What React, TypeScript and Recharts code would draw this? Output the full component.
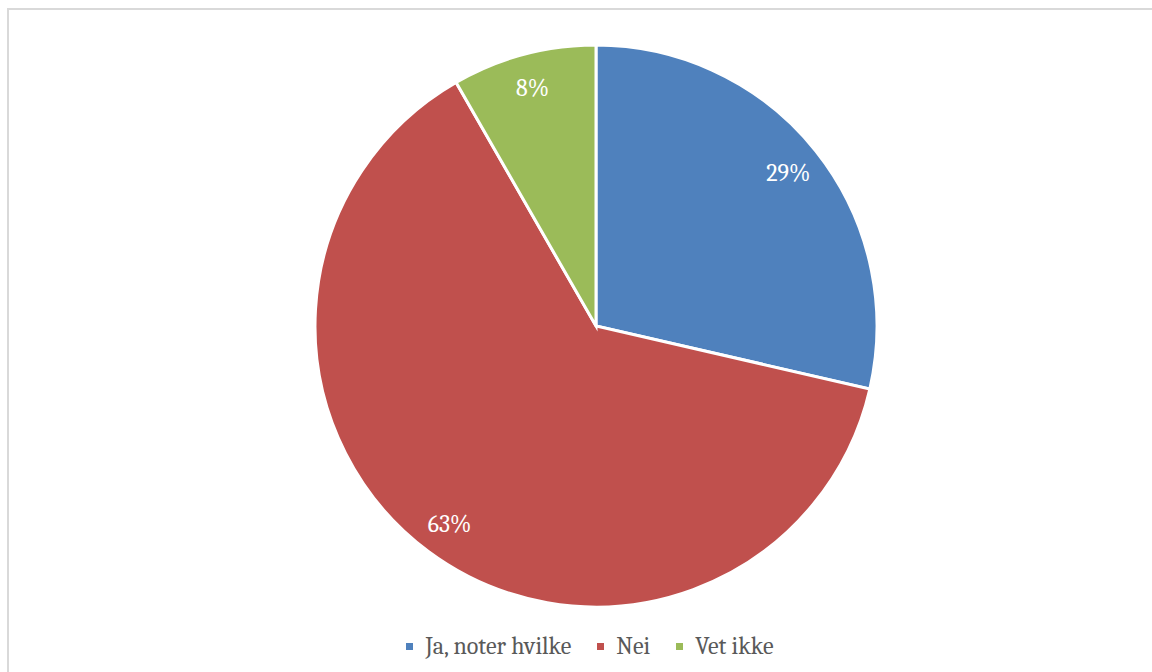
import { Cell, Legend, Pie, PieChart } from "recharts";

const categories = ["Ja, noter hvilke", "Nei", "Vet ikke"];
const shares = [28.6, 63.1, 8.3];
const colors = ["#4f81bd", "#c0504d", "#9bbb59"];

const data = categories.map((name, i) => ({ name, value: shares[i] }));

const font = "Cambria, 'DejaVu Serif', serif";
const RAD = Math.PI / 180;

function renderLabel(props: any) {
  const { cx, cy, midAngle, outerRadius, percent } = props;
  const r = outerRadius * 0.875;
  const x = cx + r * Math.cos(-midAngle * RAD);
  const y = cy + r * Math.sin(-midAngle * RAD);
  return (
    <text x={x} y={y} fill="#fff" fontSize={24} fontFamily={font} textAnchor="middle" dominantBaseline="central">
      {`${Math.round(percent * 100)}%`}
    </text>
  );
}

function LegendContent() {
  return (
    <div style={{ display: "flex", justifyContent: "center", alignItems: "center", fontFamily: font, fontSize: 24, color: "#595959" }}>
      {categories.map((c, i) => (
        <div key={c} style={{ display: "flex", alignItems: "center", marginRight: i < categories.length - 1 ? 26 : 0 }}>
          <span style={{ width: 7, height: 7, background: colors[i], marginRight: 12, display: "inline-block" }} />
          <span>{c}</span>
        </div>
      ))}
    </div>
  );
}

export default function App() {
  return (
    <div style={{ position: "absolute", left: 0, top: 0, width: 1152, height: 672, background: "#fff", overflow: "hidden" }}>
      <div style={{ position: "absolute", left: 7, top: 8, width: 1170, height: 690, border: "2px solid #d9d9d9" }} />
      <div style={{ position: "absolute", left: 0, top: 0 }}>
        <PieChart width={1152} height={672} margin={{ top: 0, right: 0, bottom: 0, left: 0 }}>
          <Pie
            data={data}
            dataKey="value"
            nameKey="name"
            cx={596}
            cy={326}
            outerRadius={281}
            startAngle={90}
            endAngle={-270}
            stroke="#fff"
            strokeWidth={3}
            label={renderLabel}
            labelLine={false}
            isAnimationActive={false}
          >
            {data.map((_, i) => (
              <Cell key={i} fill={colors[i]} />
            ))}
          </Pie>
          <Legend
            verticalAlign="bottom"
            align="center"
            content={<LegendContent />}
            wrapperStyle={{ bottom: 12, left: 0, width: 1180 }}
          />
        </PieChart>
      </div>
    </div>
  );
}
